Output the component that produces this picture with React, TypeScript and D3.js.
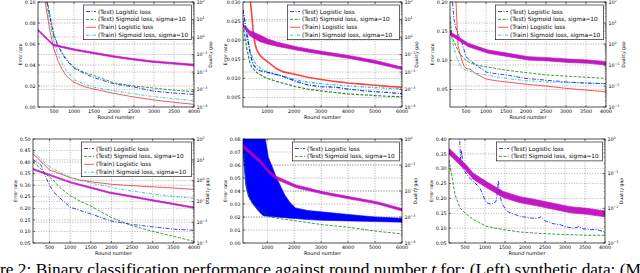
import React from "react";
import * as d3 from "d3";

// ---------- shared labels / ticks ----------
const legendLabels = [
  "(Test) Logistic loss",
  "(Test) Sigmoid loss, sigma=10",
  "(Train) Logistic loss",
  "(Train) Sigmoid loss, sigma=10",
];
const ticks4000 = [500, 1000, 1500, 2000, 2500, 3000, 3500, 4000];
const ticks6000 = [1000, 2000, 3000, 4000, 5000, 6000];

// ---------- Panel 1 ----------
const p1X = [100, 200, 300, 400, 500, 600, 700, 800, 1000, 1250, 1500, 2000, 2500, 3000, 3500, 4000];
const p1TestLogistic = [0.16, 0.13, 0.105, 0.085, 0.067, 0.058, 0.051, 0.045, 0.037, 0.032, 0.028, 0.022, 0.019, 0.015, 0.0133, 0.012];
const p1TestSigmoid = [0.165, 0.135, 0.108, 0.087, 0.069, 0.059, 0.052, 0.046, 0.038, 0.033, 0.03, 0.023, 0.02, 0.018, 0.016, 0.0146];
const p1TrainLogistic = [0.15, 0.12, 0.095, 0.072, 0.055, 0.044, 0.036, 0.03, 0.0235, 0.0195, 0.017, 0.013, 0.0095, 0.0067, 0.0045, 0.0025];
const p1TrainSigmoid = [0.16, 0.13, 0.1, 0.08, 0.062, 0.05, 0.042, 0.035, 0.026, 0.022, 0.0188, 0.0155, 0.0125, 0.0098, 0.0078, 0.006];
const p1GapX = [100, 483, 1050, 1533, 2025, 2483, 2983, 3483, 4000];
const p1GapHi = [2.76, 0.384, 0.199, 0.129, 0.0823, 0.0585, 0.0427, 0.0345, 0.0276];
const p1GapLo = [2.28, 0.317, 0.165, 0.106, 0.068, 0.0484, 0.0353, 0.0285, 0.0228];
const p1YTicks = [0, 0.02, 0.04, 0.06, 0.08, 0.1];

// ---------- Panel 2 ----------
const p2X = [100, 236, 359, 420, 483, 550, 607, 730, 850, 1040, 1350, 1600, 2067, 2500, 3000, 3500, 4000, 4500, 5000, 5500, 6000];
const p2TrainLogistic = [0.036, 0.034, 0.031, 0.027, 0.022, 0.019, 0.0175, 0.016, 0.0152, 0.0142, 0.0125, 0.0117, 0.011, 0.0103, 0.0097, 0.0092, 0.0088, 0.0085, 0.0082, 0.0079, 0.0077];
const p2TestLogistic = [0.028, 0.022, 0.017, 0.015, 0.0135, 0.013, 0.0125, 0.012, 0.0118, 0.0115, 0.011, 0.0105, 0.0092, 0.0083, 0.0078, 0.0077, 0.0072, 0.0068, 0.0065, 0.0063, 0.006];
const p2TestSigmoid = [0.024, 0.018, 0.014, 0.013, 0.0125, 0.012, 0.0115, 0.011, 0.0105, 0.0099, 0.0092, 0.0087, 0.0078, 0.0072, 0.0067, 0.0063, 0.0059, 0.0057, 0.0055, 0.0053, 0.0052];
const p2TrainSigmoid = [0.025, 0.021, 0.017, 0.016, 0.0148, 0.014, 0.0135, 0.0128, 0.0122, 0.0116, 0.011, 0.0105, 0.0096, 0.009, 0.0086, 0.0083, 0.008, 0.0078, 0.0076, 0.0074, 0.0073];
const p2GapX = [100, 359, 730, 1040, 1350, 2067, 2587, 3082, 4071, 5060, 6000];
const p2GapHi = [5.37, 2.24, 1.3, 0.75, 0.517, 0.28, 0.199, 0.148, 0.0848, 0.044, 0.019];
const p2GapLo = [4.36, 1.16, 0.54, 0.388, 0.297, 0.181, 0.132, 0.0996, 0.0589, 0.0301, 0.0138];
const p2YTicks = [0.005, 0.01, 0.015, 0.02, 0.025, 0.03];

// ---------- Panel 3 ----------
const p3X = [100, 150, 200, 250, 300, 375, 450, 500, 600, 750, 1000, 1250, 1500, 2000, 2500, 3000, 3500, 4000];
const p3TrainLogistic = [0.26, 0.24, 0.22, 0.2, 0.125, 0.105, 0.09, 0.086, 0.085, 0.077, 0.068, 0.065, 0.063, 0.059, 0.056, 0.052, 0.049, 0.046];
const p3TestLogistic = [0.24, 0.21, 0.17, 0.155, 0.145, 0.135, 0.118, 0.106, 0.1, 0.092, 0.08, 0.077, 0.075, 0.069, 0.066, 0.063, 0.061, 0.06];
const p3TestSigmoid = [0.175, 0.14, 0.132, 0.124, 0.117, 0.109, 0.103, 0.1, 0.096, 0.092, 0.089, 0.086, 0.083, 0.079, 0.075, 0.073, 0.071, 0.069];
const p3TrainSigmoid = [0.165, 0.135, 0.12, 0.11, 0.1, 0.089, 0.085, 0.083, 0.081, 0.078, 0.075, 0.072, 0.069, 0.065, 0.063, 0.062, 0.061, 0.06];
const p3GapX = [100, 558, 1058, 1558, 2058, 2558, 3058, 3558, 4000];
const p3GapHi = [3.89, 1.075, 0.516, 0.36, 0.25, 0.224, 0.192, 0.173, 0.144];
const p3GapLo = [2.7, 0.747, 0.358, 0.25, 0.173, 0.156, 0.133, 0.12, 0.1];
const p3YTicks = [0.05, 0.1, 0.15, 0.2];

// ---------- Panel 4 ----------
const p4X = [100, 200, 300, 400, 500, 600, 750, 1000, 1250, 1500, 2000, 2500, 3000, 3500, 4000];
const p4TestLogistic = [0.41, 0.4, 0.385, 0.34, 0.3, 0.27, 0.245, 0.205, 0.19, 0.176, 0.145, 0.13, 0.12, 0.11, 0.105];
const p4TestSigmoid = [0.4, 0.385, 0.37, 0.35, 0.335, 0.32, 0.29, 0.255, 0.23, 0.21, 0.16, 0.125, 0.1, 0.079, 0.057];
const p4TrainLogistic = [0.435, 0.42, 0.4, 0.385, 0.365, 0.36, 0.35, 0.333, 0.322, 0.315, 0.304, 0.298, 0.293, 0.288, 0.282];
const p4TrainSigmoid = [0.445, 0.43, 0.41, 0.395, 0.38, 0.37, 0.355, 0.335, 0.32, 0.31, 0.29, 0.275, 0.262, 0.252, 0.243];
const p4GapX = [100, 553, 1020, 1480, 1948, 2409, 2854, 3314, 4000];
const p4GapHi = [3.8, 1.83, 0.867, 0.5, 0.285, 0.198, 0.135, 0.0936, 0.0535];
const p4GapLo = [3.32, 1.6, 0.757, 0.435, 0.249, 0.173, 0.118, 0.0818, 0.0467];
const p4YTicks = [0.05, 0.1, 0.15, 0.2, 0.25, 0.3, 0.35, 0.4, 0.45, 0.5];

// ---------- Panel 5 ----------
const p5SigX = [100, 174, 236, 360, 483, 730, 1040, 1350, 2067, 3080, 4070, 5060, 6000];
const p5TestSigmoid = [0.08, 0.055, 0.042, 0.033, 0.0295, 0.026, 0.0205, 0.019, 0.017, 0.014, 0.012, 0.009, 0.007];
const p5LogX = [100, 200, 300, 500, 700, 850, 1040, 1350, 1650, 1850, 2050, 2500, 3000, 4000, 5000, 6000];
const p5TestLogisticHi = [0.09, 0.09, 0.09, 0.09, 0.09, 0.09, 0.066, 0.05, 0.037, 0.031, 0.027, 0.025, 0.024, 0.022, 0.02, 0.019];
const p5TestLogisticLo = [0.07, 0.045, 0.036, 0.029, 0.024, 0.021, 0.0205, 0.02, 0.0195, 0.019, 0.0188, 0.018, 0.0175, 0.017, 0.0165, 0.016];
const p5GapX = [100, 730, 1040, 1350, 2067, 3082, 4071, 5060, 6000];
const p5GapHi = [0.6, 0.16, 0.0655, 0.0363, 0.0172, 0.0093, 0.006, 0.0039, 0.0021];
const p5GapLo = [0.45, 0.121, 0.0496, 0.0275, 0.0134, 0.0076, 0.0049, 0.0032, 0.0017];
const p5YTicks = [0, 0.01, 0.02, 0.03, 0.04, 0.05, 0.06, 0.07, 0.08];

// ---------- Panel 6 ----------
const p6LogX = [358, 390, 417, 450, 500, 600, 708, 800, 875, 950, 1042, 1167, 1275, 1300, 1333, 1360, 1417, 1542, 1700, 1875, 2100, 2292, 2400, 2500, 2700, 2875, 3000, 3208, 3350, 3450, 3625, 3800, 4000];
const p6TestLogistic = [0.42, 0.33, 0.36, 0.3, 0.29, 0.27, 0.258, 0.245, 0.235, 0.21, 0.185, 0.18, 0.19, 0.21, 0.26, 0.22, 0.185, 0.157, 0.148, 0.14, 0.135, 0.132, 0.138, 0.125, 0.115, 0.112, 0.105, 0.1, 0.105, 0.098, 0.095, 0.095, 0.087];
const p6SigX = [100, 167, 250, 375, 500, 708, 1042, 1458, 1875, 2292, 2708, 3542, 4000];
const p6TestSigmoid = [0.33, 0.28, 0.213, 0.168, 0.151, 0.129, 0.106, 0.095, 0.087, 0.083, 0.08, 0.076, 0.076];
const p6GapX = [100, 533, 708, 1042, 1458, 1875, 2292, 2708, 3125, 3542, 4000];
const p6GapHi = [0.537, 0.178, 0.1025, 0.0586, 0.0305, 0.0217, 0.0176, 0.014, 0.0112, 0.01, 0.0084];
const p6GapLo = [0.36, 0.12, 0.069, 0.0393, 0.0205, 0.0146, 0.0118, 0.0094, 0.0075, 0.0067, 0.0057];
const p6YTicks = [0.05, 0.1, 0.15, 0.2, 0.25, 0.3, 0.35, 0.4];

// ---------- styles ----------
const FONT = "DejaVu Sans";
const C_BLUE = "#0000ff";
const C_GREEN = "#008000";
const C_RED = "#ff2020";
const C_CYAN = "#00bfbf";
const C_MAG = "#bf00bf";
const styleTestLog = { color: C_BLUE, dash: "4,1.5,1,1.5" };
const styleTestSig = { color: C_GREEN, dash: "3,1.5" };
const styleTrainLog = { color: C_RED, dash: "" };
const styleTrainSig = { color: C_CYAN, dash: "3,1.5,1,1.5" };
const legendStyles = [styleTestLog, styleTestSig, styleTrainLog, styleTrainSig];

type Series = { x: number[]; y: number[]; color: string; dash: string; width?: number };
type Band = { x: number[]; lo: number[]; hi: number[]; color: string; right: boolean };
type PanelCfg = {
  box: { l: number; r: number; t: number; b: number };
  xDomain: [number, number];
  xTicks: number[];
  yDomain: [number, number];
  yTicks: number[];
  yFmt: string;
  rDomain: [number, number];
  series: Series[];
  bands: Band[];
  nLegend: number;
  legendW: number;
  rLabelOff: number;
};

const mk = (x: number[], y: number[], s: { color: string; dash: string }, width = 0.9): Series => ({ x, y, ...s, width });

const panels: PanelCfg[] = [
  {
    box: { l: 38, r: 194, t: 2, b: 107 },
    xDomain: [100, 4000], xTicks: ticks4000,
    yDomain: [0, 0.1], yTicks: p1YTicks, yFmt: ".2f",
    rDomain: [1e-4, 1e2],
    series: [
      mk(p1X, p1TrainLogistic, styleTrainLog),
      mk(p1X, p1TrainSigmoid, styleTrainSig),
      mk(p1X, p1TestSigmoid, styleTestSig),
      mk(p1X, p1TestLogistic, styleTestLog),
    ],
    bands: [{ x: p1GapX, lo: p1GapLo, hi: p1GapHi, color: C_MAG, right: true }],
    nLegend: 4, legendW: 108, rLabelOff: 18,
  },
  {
    box: { l: 243, r: 402, t: 2, b: 107 },
    xDomain: [100, 6000], xTicks: ticks6000,
    yDomain: [0.0025, 0.03], yTicks: p2YTicks, yFmt: ".3f",
    rDomain: [1e-4, 1e2],
    series: [
      mk(p2X, p2TrainLogistic, styleTrainLog, 1.6),
      mk(p2X, p2TrainSigmoid, styleTrainSig, 1.3),
      mk(p2X, p2TestSigmoid, styleTestSig, 1.2),
      mk(p2X, p2TestLogistic, styleTestLog, 1.2),
    ],
    bands: [{ x: p2GapX, lo: p2GapLo, hi: p2GapHi, color: C_MAG, right: true }],
    nLegend: 4, legendW: 112, rLabelOff: 16,
  },
  {
    box: { l: 450, r: 606, t: 2, b: 107 },
    xDomain: [100, 4000], xTicks: ticks4000,
    yDomain: [0.02, 0.2], yTicks: p3YTicks, yFmt: ".2f",
    rDomain: [1e-3, 1e2],
    series: [
      mk(p3X, p3TrainLogistic, styleTrainLog),
      mk(p3X, p3TrainSigmoid, styleTrainSig),
      mk(p3X, p3TestSigmoid, styleTestSig),
      mk(p3X, p3TestLogistic, styleTestLog),
    ],
    bands: [{ x: p3GapX, lo: p3GapLo, hi: p3GapHi, color: C_MAG, right: true }],
    nLegend: 4, legendW: 108, rLabelOff: 19,
  },
  {
    box: { l: 33, r: 194, t: 139, b: 243 },
    xDomain: [100, 4000], xTicks: ticks4000,
    yDomain: [0.05, 0.5], yTicks: p4YTicks, yFmt: ".2f",
    rDomain: [1e-3, 1e2],
    series: [
      mk(p4X, p4TrainLogistic, styleTrainLog),
      mk(p4X, p4TrainSigmoid, styleTrainSig),
      mk(p4X, p4TestSigmoid, styleTestSig),
      mk(p4X, p4TestLogistic, styleTestLog),
    ],
    bands: [{ x: p4GapX, lo: p4GapLo, hi: p4GapHi, color: C_MAG, right: true }],
    nLegend: 4, legendW: 110, rLabelOff: 15,
  },
  {
    box: { l: 243, r: 402, t: 139, b: 243 },
    xDomain: [100, 6000], xTicks: ticks6000,
    yDomain: [0, 0.08], yTicks: p5YTicks, yFmt: ".2f",
    rDomain: [1e-4, 1e0],
    series: [mk(p5SigX, p5TestSigmoid, styleTestSig)],
    bands: [
      { x: p5LogX, lo: p5TestLogisticLo, hi: p5TestLogisticHi, color: C_BLUE, right: false },
      { x: p5GapX, lo: p5GapLo, hi: p5GapHi, color: C_MAG, right: true },
    ],
    nLegend: 2, legendW: 107, rLabelOff: 15,
  },
  {
    box: { l: 449, r: 605, t: 139, b: 243 },
    xDomain: [100, 4000], xTicks: ticks4000,
    yDomain: [0.05, 0.4], yTicks: p6YTicks, yFmt: ".2f",
    rDomain: [1e-3, 1e0],
    series: [mk(p6SigX, p6TestSigmoid, styleTestSig), mk(p6LogX, p6TestLogistic, styleTestLog)],
    bands: [{ x: p6GapX, lo: p6GapLo, hi: p6GapHi, color: C_MAG, right: true }],
    nLegend: 2, legendW: 106, rLabelOff: 18,
  },
];

const TICK_FS = 4.8;
const LAB_FS = 4.6;
const LEG_FS = 5.8;

function Panel({ p, id }: { p: PanelCfg; id: number }) {
  const { l, r, t, b } = p.box;
  const x = d3.scaleLinear().domain(p.xDomain).range([l, r]);
  const y = d3.scaleLinear().domain(p.yDomain).range([b, t]);
  const yr = d3.scaleLog().domain(p.rDomain).range([b, t]);
  const e0 = Math.round(Math.log10(p.rDomain[0]));
  const e1 = Math.round(Math.log10(p.rDomain[1]));
  const decades = d3.range(e0, e1 + 1);
  const minors = decades.slice(0, -1).flatMap((e) => d3.range(2, 10).map((m) => m * Math.pow(10, e)));
  const fmt = d3.format(p.yFmt);
  const clip = `clip-${id}`;
  const gridStyle = { stroke: "#666", strokeWidth: 0.5, strokeDasharray: "1.3,1.3", opacity: 0.8 };
  const lg = { x: r - 2.5 - p.legendW, y: t + 3, rowH: 7.9 };
  const lgH = 6.5 + (p.nLegend - 1) * lg.rowH + 4.5;
  const midY = (t + b) / 2;

  return (
    <g>
      <defs>
        <clipPath id={clip}>
          <rect x={l} y={t} width={r - l} height={b - t} />
        </clipPath>
      </defs>
      <rect x={l} y={t} width={r - l} height={b - t} fill="#fff" />
      {/* grid */}
      <g>
        {p.xTicks.filter((v) => x(v) < r - 0.5).map((v) => (
          <line key={"gx" + v} x1={x(v)} x2={x(v)} y1={t} y2={b} {...gridStyle} />
        ))}
        {p.yTicks.filter((v) => y(v) > t + 0.5 && y(v) < b - 0.5).map((v) => (
          <line key={"gy" + v} x1={l} x2={r} y1={y(v)} y2={y(v)} {...gridStyle} />
        ))}
        {decades.slice(1, -1).map((e) => (
          <line key={"gr" + e} x1={l} x2={r} y1={yr(Math.pow(10, e))} y2={yr(Math.pow(10, e))} {...gridStyle} />
        ))}
      </g>
      {/* data */}
      <g clipPath={`url(#${clip})`}>
        {p.bands.filter((bd) => !bd.right).map((bd, i) => {
          const area = d3.area<number>()
            .x((d) => x(d))
            .y0((_, j) => y(bd.lo[j]))
            .y1((_, j) => y(bd.hi[j]));
          return <path key={"bl" + i} d={area(bd.x) || ""} fill={bd.color} stroke={bd.color} strokeWidth={0.6} />;
        })}
        {p.series.map((s, i) => {
          const line = d3.line<number>().x((_, j) => x(s.x[j])).y((d) => y(d));
          return (
            <path key={"s" + i} d={line(s.y) || ""} fill="none" stroke={s.color}
              strokeWidth={s.width ?? 0.9} strokeDasharray={s.dash || undefined} opacity={0.85} />
          );
        })}
        {p.bands.filter((bd) => bd.right).map((bd, i) => {
          const area = d3.area<number>()
            .x((d) => x(d))
            .y0((_, j) => yr(bd.lo[j]))
            .y1((_, j) => yr(bd.hi[j]));
          return <path key={"br" + i} d={area(bd.x) || ""} fill={bd.color} stroke={bd.color} strokeWidth={0.7} opacity={0.9} />;
        })}
      </g>
      {/* frame */}
      <rect x={l} y={t} width={r - l} height={b - t} fill="none" stroke="#000" strokeWidth={0.7} />
      {/* x ticks */}
      {p.xTicks.map((v) => (
        <g key={"xt" + v}>
          <line x1={x(v)} x2={x(v)} y1={b} y2={b - 2} stroke="#000" strokeWidth={0.5} />
          <line x1={x(v)} x2={x(v)} y1={t} y2={t + 2} stroke="#000" strokeWidth={0.5} />
          <text x={x(v)} y={b + 6} fontSize={TICK_FS} fontFamily={FONT} textAnchor="middle" fill="#000">{v}</text>
        </g>
      ))}
      {/* left ticks */}
      {p.yTicks.map((v) => (
        <g key={"yt" + v}>
          <line x1={l} x2={l + 2} y1={y(v)} y2={y(v)} stroke="#000" strokeWidth={0.5} />
          <text x={l - 2.5} y={y(v) + 1.7} fontSize={TICK_FS} fontFamily={FONT} textAnchor="end" fill="#000">{fmt(v)}</text>
        </g>
      ))}
      {/* right log ticks */}
      {decades.map((e) => (
        <g key={"rt" + e}>
          <line x1={r - 2.5} x2={r} y1={yr(Math.pow(10, e))} y2={yr(Math.pow(10, e))} stroke="#000" strokeWidth={0.5} />
          <text x={r + 2.5} y={yr(Math.pow(10, e)) + 1.7} fontSize={TICK_FS} fontFamily={FONT} fill="#000">
            10<tspan dy={-2} fontSize={3.3}>{e < 0 ? "\u2212" + -e : String(e)}</tspan>
          </text>
        </g>
      ))}
      {minors.map((v, i) => (
        <line key={"mn" + i} x1={r - 1.3} x2={r} y1={yr(v)} y2={yr(v)} stroke="#000" strokeWidth={0.4} />
      ))}
      {/* axis labels */}
      <text x={(l + r) / 2} y={b + 11.5} fontSize={LAB_FS + 0.4} fontFamily={FONT} textAnchor="middle" fill="#000">Round number</text>
      <text transform={`translate(${l - 16.5},${midY}) rotate(-90)`} fontSize={LAB_FS} fontFamily={FONT} textAnchor="middle" fill="#000">Error rate</text>
      <text transform={`translate(${r + p.rLabelOff},${midY}) rotate(-90)`} fontSize={LAB_FS} fontFamily={FONT} textAnchor="middle" fill="#000">Duality gap</text>
      {/* legend */}
      <g>
        <rect x={lg.x} y={lg.y} width={p.legendW} height={lgH} fill="#fff" stroke="#000" strokeWidth={0.6} />
        {legendLabels.slice(0, p.nLegend).map((lab, i) => {
          const cy = lg.y + 6.5 + i * lg.rowH;
          const st = legendStyles[i];
          return (
            <g key={"lg" + i}>
              <line x1={lg.x + 2.5} x2={lg.x + 12.5} y1={cy} y2={cy} stroke={st.color} strokeWidth={0.9}
                strokeDasharray={st.dash || undefined} opacity={0.85} />
              <text x={lg.x + 14.5} y={cy + 2} fontSize={LEG_FS} fontFamily={FONT} fill="#000">{lab}</text>
            </g>
          );
        })}
      </g>
    </g>
  );
}

export default function App() {
  return (
    <svg width={640} height={273} viewBox="0 0 640 273"
      style={{ position: "absolute", left: 0, top: 0, background: "#fff" }}>
      <rect x={0} y={0} width={640} height={273} fill="#fff" />
      {panels.map((p, i) => (
        <Panel key={i} p={p} id={i} />
      ))}
      <text x={0} y={275} fontSize={16} fontFamily="Liberation Serif" fill="#000" textLength={641} lengthAdjust="spacingAndGlyphs">
        re 2: Binary classification performance against round number <tspan fontStyle="italic">t</tspan> for: (Left) synthetic data; (M
      </text>
    </svg>
  );
}
